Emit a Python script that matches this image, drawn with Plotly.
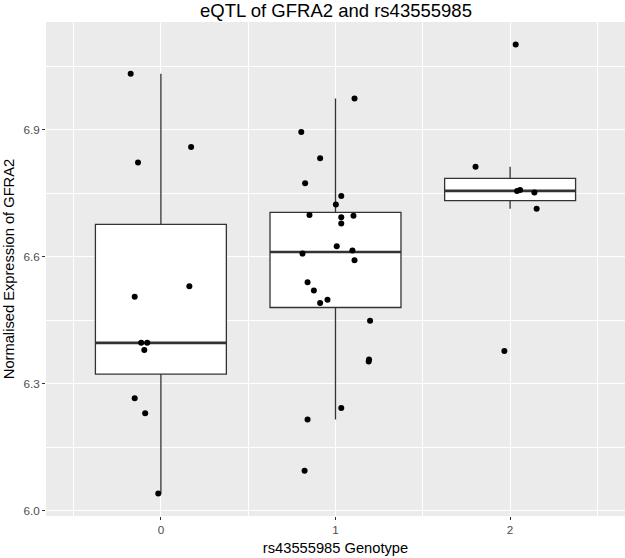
import numpy as np
import plotly.graph_objects as go

# expression values per genotype
genotypes = [0, 1, 2]
expr_g0 = [7.032, 6.859, 6.822, 6.530, 6.505, 6.396, 6.396, 6.379, 6.265, 6.230, 6.040]
expr_g1 = [6.973, 6.894, 6.832, 6.773, 6.743, 6.723, 6.698, 6.693, 6.696, 6.678, 6.624, 6.614,
           6.607, 6.591, 6.539, 6.520, 6.498, 6.490, 6.448, 6.357, 6.352, 6.242, 6.215, 6.094]
expr_g2 = [7.101, 6.812, 6.757, 6.755, 6.751, 6.713, 6.377]

# horizontal jitter of each point (as drawn)
jit_g0 = [-0.173, 0.173, -0.131, 0.163, -0.150, -0.113, -0.078, -0.095, -0.150, -0.090, -0.015]
jit_g1 = [0.109, -0.196, -0.088, -0.174, 0.033, 0.002, -0.149, 0.033, 0.103, 0.033, 0.007, 0.097,
          -0.189, 0.109, -0.160, -0.124, -0.046, -0.088, 0.198, 0.192, 0.190, 0.033, -0.160, -0.177]
jit_g2 = [0.032, -0.198, 0.057, 0.040, 0.139, 0.152, -0.033]

groups = [expr_g0, expr_g1, expr_g2]
jitters = [jit_g0, jit_g1, jit_g2]

# ggplot-style box stats (type 7 quantiles, 1.5*IQR whiskers)
q1s, meds, q3s, lows, highs = [], [], [], [], []
for vals in groups:
    v = np.array(vals)
    q1, med, q3 = np.percentile(v, [25, 50, 75])
    iqr = q3 - q1
    q1s.append(q1)
    meds.append(med)
    q3s.append(q3)
    lows.append(v[v >= q1 - 1.5 * iqr].min())
    highs.append(v[v <= q3 + 1.5 * iqr].max())

fig = go.Figure()

fig.add_trace(go.Box(
    x=genotypes, q1=q1s, median=meds, q3=q3s,
    lowerfence=lows, upperfence=highs,
    width=0.75, whiskerwidth=0,
    fillcolor="white", line=dict(color="#333333", width=1.3),
    boxpoints=False, showlegend=False, hoverinfo="skip",
))

# thicker median lines like ggplot
for g, m in zip(genotypes, meds):
    fig.add_trace(go.Scatter(
        x=[g - 0.375, g + 0.375], y=[m, m], mode="lines",
        line=dict(color="#333333", width=2.6), showlegend=False, hoverinfo="skip",
    ))

# jittered points
for g, vals, jit in zip(genotypes, groups, jitters):
    fig.add_trace(go.Scatter(
        x=[g + j for j in jit], y=vals, mode="markers",
        marker=dict(color="black", size=6), showlegend=False,
    ))

fig.update_layout(
    width=625, height=558,
    margin=dict(l=46, r=0, t=22, b=42),
    paper_bgcolor="white", plot_bgcolor="#EBEBEB",
    font=dict(family="Liberation Sans, Arial, sans-serif", color="black"),
    title=dict(text="eQTL of GFRA2 and rs43555985", font=dict(size=18.5, color="black"),
               x=0.5376, xanchor="center", y=0.993, yanchor="top", yref="container"),
)

fig.update_xaxes(
    range=[-0.658, 2.658], tickvals=genotypes, ticktext=["0", "1", "2"],
    showgrid=True, gridcolor="white", gridwidth=1.4, zeroline=False,
    ticks="outside", ticklen=3, tickcolor="#333333", tickwidth=1,
    tickfont=dict(size=11.7, color="#4D4D4D"),
    minor=dict(tickvals=[-0.5, 0.5, 1.5, 2.5], showgrid=True, gridcolor="white", gridwidth=0.7, ticks=""),
    title=dict(text="rs43555985 Genotype", font=dict(size=14.7, color="black"), standoff=7),
    automargin=False,
)

fig.update_yaxes(
    range=[5.987, 7.154], tickvals=[6.0, 6.3, 6.6, 6.9], ticktext=["6.0", "6.3", "6.6", "6.9"],
    showgrid=True, gridcolor="white", gridwidth=1.4, zeroline=False,
    ticks="outside", ticklen=3, tickcolor="#333333", tickwidth=1,
    tickfont=dict(size=11.7, color="#4D4D4D"),
    minor=dict(tickvals=[6.15, 6.45, 6.75, 7.05], showgrid=True, gridcolor="white", gridwidth=0.7, ticks=""),
    title=dict(text="Normalised Expression of GFRA2", font=dict(size=14.7, color="black"), standoff=5),
    automargin=False,
)

# drop the browser's default 8px body margin so the figure fills the window
fig.write_html("out.html", config={"displayModeBar": False},
               post_script="document.body.style.margin = '0';")
